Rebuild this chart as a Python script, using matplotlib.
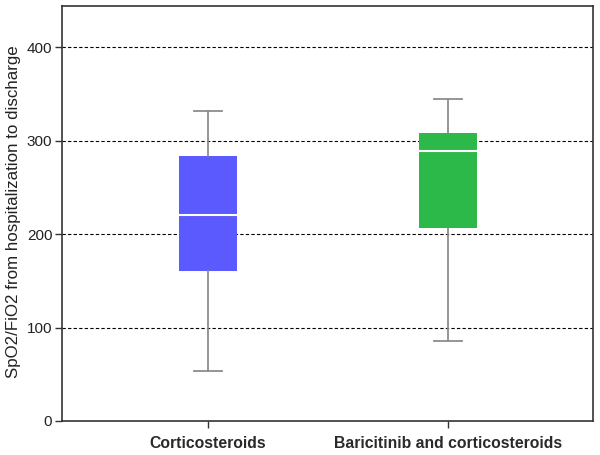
import matplotlib
matplotlib.use("Agg")
import matplotlib.pyplot as plt

plt.rcParams['font.family'] = ['Liberation Sans', 'DejaVu Sans']

categories = ["Corticosteroids", "Baricitinib and corticosteroids"]
whislo = [54, 86]
q1 = [161, 207]
med = [220, 289]
q3 = [283, 308]
whishi = [332, 345]
colors = ["#5A5AFF", "#2DB84A"]
yticks = [0, 100, 200, 300, 400]

fig = plt.figure(figsize=(6, 4.55), dpi=100)
ax = fig.add_axes([62/600, 34/455, 531/600, 415/455])

stats = []
for i in range(len(categories)):
    stats.append(dict(whislo=whislo[i], q1=q1[i], med=med[i], q3=q3[i],
                      whishi=whishi[i], fliers=[], label=categories[i]))

bp = ax.bxp(stats, positions=[1, 2], widths=0.24, patch_artist=True,
            showfliers=False,
            medianprops=dict(color="white", linewidth=1.5),
            whiskerprops=dict(color="#8C8C8C", linewidth=1.3),
            capprops=dict(color="#8C8C8C", linewidth=1.3),
            boxprops=dict(linewidth=0))
for patch, c in zip(bp['boxes'], colors):
    patch.set_facecolor(c)
    patch.set_edgecolor(c)
for cap in bp['caps']:
    x = cap.get_xdata()
    mid = (x[0] + x[1]) / 2
    cap.set_xdata([mid - 0.06, mid + 0.06])

ax.set_xlim(0.392, 2.604)
ax.set_ylim(0, 444)
ax.set_yticks(yticks)
ax.set_yticklabels([str(t) for t in yticks], fontsize=11, color="#222222")
for t in yticks[1:]:
    ax.axhline(t, color="black", linestyle=(0, (3, 2)), linewidth=0.8, zorder=0)
ax.set_xticks([1, 2])
ax.set_xticklabels(categories, fontsize=11.3, fontweight="bold", color="#2a2a2a")
ax.set_ylabel("SpO2/FiO2 from hospitalization to discharge", fontsize=12.2,
              color="#222222")
ax.yaxis.set_label_coords(-0.078, 0.505)
ax.tick_params(axis='both', direction='out', length=5, width=1, color="#333333")
ax.tick_params(axis='x', pad=6)
ax.tick_params(axis='y', pad=2)
for s in ax.spines.values():
    s.set_color("#333333")
    s.set_linewidth(1.2)

fig.savefig("out.png", dpi=100)
